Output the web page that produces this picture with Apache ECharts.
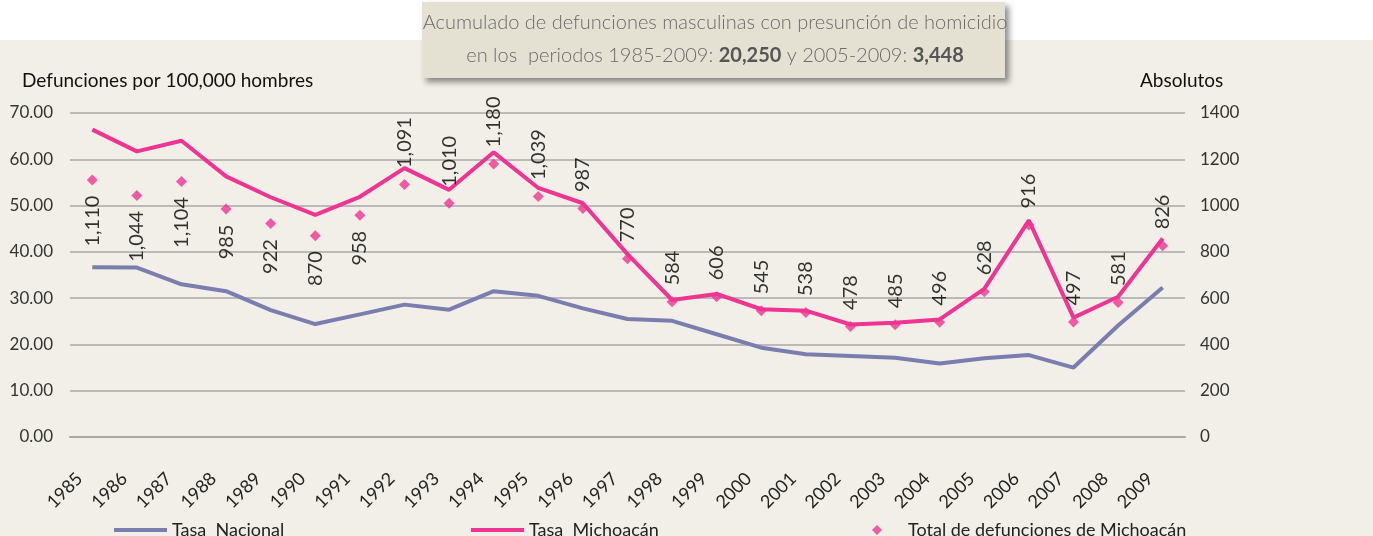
<!DOCTYPE html>
<html>
<head>
<meta charset="utf-8">
<script src="https://cdn.jsdelivr.net/npm/echarts@6/dist/echarts.min.js"></script>
<style>
  html, body { margin: 0; padding: 0; background: #ffffff; }
  #chart { width: 1373px; height: 536px; }
</style>
</head>
<body>
<div id="chart"></div>
<script>
// years on the category axis
const years = ['1985', '1986', '1987', '1988', '1989', '1990', '1991', '1992', '1993', '1994',
  '1995', '1996', '1997', '1998', '1999', '2000', '2001', '2002', '2003', '2004',
  '2005', '2006', '2007', '2008', '2009']

// rates per 100,000 men (left axis)
const tasaNacional = [36.7, 36.6, 33.0, 31.5, 27.4, 24.4, 26.5, 28.6, 27.5, 31.5,
  30.5, 27.8, 25.5, 25.1, 22.2, 19.3, 17.9, 17.5, 17.1, 15.9,
  17.0, 17.7, 15.0, 24.1, 32.3]
const tasaMichoacan = [66.4, 61.7, 64.0, 56.3, 51.8, 48.0, 51.9, 58.1, 53.4, 61.5,
  53.8, 50.5, 39.5, 29.6, 30.9, 27.6, 27.3, 24.3, 24.7, 25.4,
  32.0, 46.8, 25.8, 30.3, 42.9]

// absolute deaths (right axis)
const totalMichoacan = [1110, 1044, 1104, 985, 922, 870, 958, 1091, 1010, 1180,
  1039, 987, 770, 584, 606, 545, 538, 478, 485, 496,
  628, 916, 497, 581, 826]

const FONT = 'Lato'
const PINK = '#ef3491'
const BLUE = '#7b7dae'

function fmt(n) {
  return String(n).replace(/\B(?=(\d{3})+(?!\d))/g, ',')
}

const chart = echarts.init(document.getElementById('chart'))

// first years carry their label under the diamond, the rest above
const labelBelow = {
  show: true, position: 'bottom', distance: 10, rotate: 90,
  align: 'right', verticalAlign: 'middle'
}
const labelAbove = {
  show: true, position: 'top', distance: 11, rotate: 90,
  align: 'left', verticalAlign: 'middle'
}

chart.setOption({
  backgroundColor: '#ffffff',
  textStyle: { fontFamily: FONT },
  animation: false,
  graphic: [
    {
      type: 'rect', z: -10, silent: true,
      shape: { x: 0, y: 40, width: 1373, height: 496 },
      style: { fill: '#f1efe7' }
    },
    {
      type: 'rect', z: 10, silent: true,
      shape: { x: 422, y: 2, width: 583, height: 76 },
      style: {
        fill: '#e4e1d3', shadowBlur: 6, shadowOffsetX: 4, shadowOffsetY: 4,
        shadowColor: 'rgba(0,0,0,0.45)'
      }
    },
    {
      type: 'text', z: 11, silent: true, x: 715, y: 13,
      style: {
        text: 'Acumulado de defunciones masculinas con presunción de homicidio',
        font: '300 20px ' + FONT, fill: '#6a6a6a', align: 'center'
      }
    },
    {
      type: 'text', z: 11, silent: true, x: 715, y: 46,
      style: {
        text: 'en los  periodos 1985-2009: {b|20,250} y 2005-2009: {b|3,448}',
        font: '300 20px ' + FONT, fill: '#6a6a6a', align: 'center',
        rich: { b: { fontWeight: 'bold', fontSize: 20, fill: '#555555', fontFamily: FONT } }
      }
    },
    {
      type: 'text', silent: true, left: 22, top: 71,
      style: { text: 'Defunciones por 100,000 hombres', font: '19px ' + FONT, fill: '#111111' }
    },
    {
      type: 'text', silent: true, left: 1140, top: 71,
      style: { text: 'Absolutos', font: '19px ' + FONT, fill: '#111111' }
    }
  ],
  grid: { left: 70, right: 188, top: 113, bottom: 99 },
  legend: [
    {
      left: 109, top: 516, icon: 'rect', itemWidth: 53, itemHeight: 4, itemGap: 0,
      data: ['Tasa  Nacional'],
      textStyle: { fontSize: 18, color: '#222', fontFamily: FONT }
    },
    {
      left: 466, top: 516, icon: 'rect', itemWidth: 53, itemHeight: 4, itemGap: 0,
      data: ['Tasa  Michoacán'],
      textStyle: { fontSize: 18, color: '#222', fontFamily: FONT }
    },
    {
      left: 867, top: 516, icon: 'diamond', itemWidth: 10, itemHeight: 10, itemGap: 0,
      data: ['Total de defunciones de Michoacán'],
      textStyle: { fontSize: 18, color: '#222', fontFamily: FONT, padding: [0, 0, 0, 21] }
    }
  ],
  xAxis: {
    type: 'category',
    data: years,
    boundaryGap: true,
    axisLine: { lineStyle: { color: '#a8a8a8', width: 2 } },
    axisTick: { inside: true, length: 5, interval: 0, lineStyle: { color: '#a8a8a8', width: 1.5 } },
    axisLabel: {
      interval: 0, rotate: 45, fontSize: 18, color: '#222', fontFamily: FONT,
      margin: 26, padding: [0, 18, 0, 0]
    }
  },
  yAxis: [
    {
      type: 'value', min: 0, max: 70, interval: 10,
      axisLine: { show: false }, axisTick: { show: false },
      axisLabel: {
        margin: 17, fontSize: 17, color: '#333', fontFamily: FONT,
        formatter: v => v.toFixed(2)
      },
      splitLine: { lineStyle: { color: '#a9a9a9', width: 1.5 } }
    },
    {
      type: 'value', min: 0, max: 1400, interval: 200, position: 'right',
      axisLine: { show: false }, axisTick: { show: false },
      axisLabel: { margin: 15, fontSize: 17, color: '#333', fontFamily: FONT, formatter: v => String(v) },
      splitLine: { show: false }
    }
  ],
  series: [
    {
      name: 'Tasa  Nacional', type: 'line', yAxisIndex: 0,
      data: tasaNacional, symbol: 'none', color: BLUE,
      lineStyle: { width: 4, color: BLUE }
    },
    {
      name: 'Tasa  Michoacán', type: 'line', yAxisIndex: 0,
      data: tasaMichoacan, symbol: 'none', color: PINK,
      lineStyle: { width: 4, color: PINK }
    },
    {
      name: 'Total de defunciones de Michoacán', type: 'scatter', yAxisIndex: 1,
      symbol: 'diamond', symbolSize: 11, color: PINK, z: 5,
      data: totalMichoacan.map((v, i) => ({ value: v, label: i < 7 ? labelBelow : labelAbove })),
      label: {
        fontSize: 20, color: '#000', fontFamily: FONT,
        formatter: p => fmt(p.value)
      }
    }
  ]
})
</script>
</body>
</html>
